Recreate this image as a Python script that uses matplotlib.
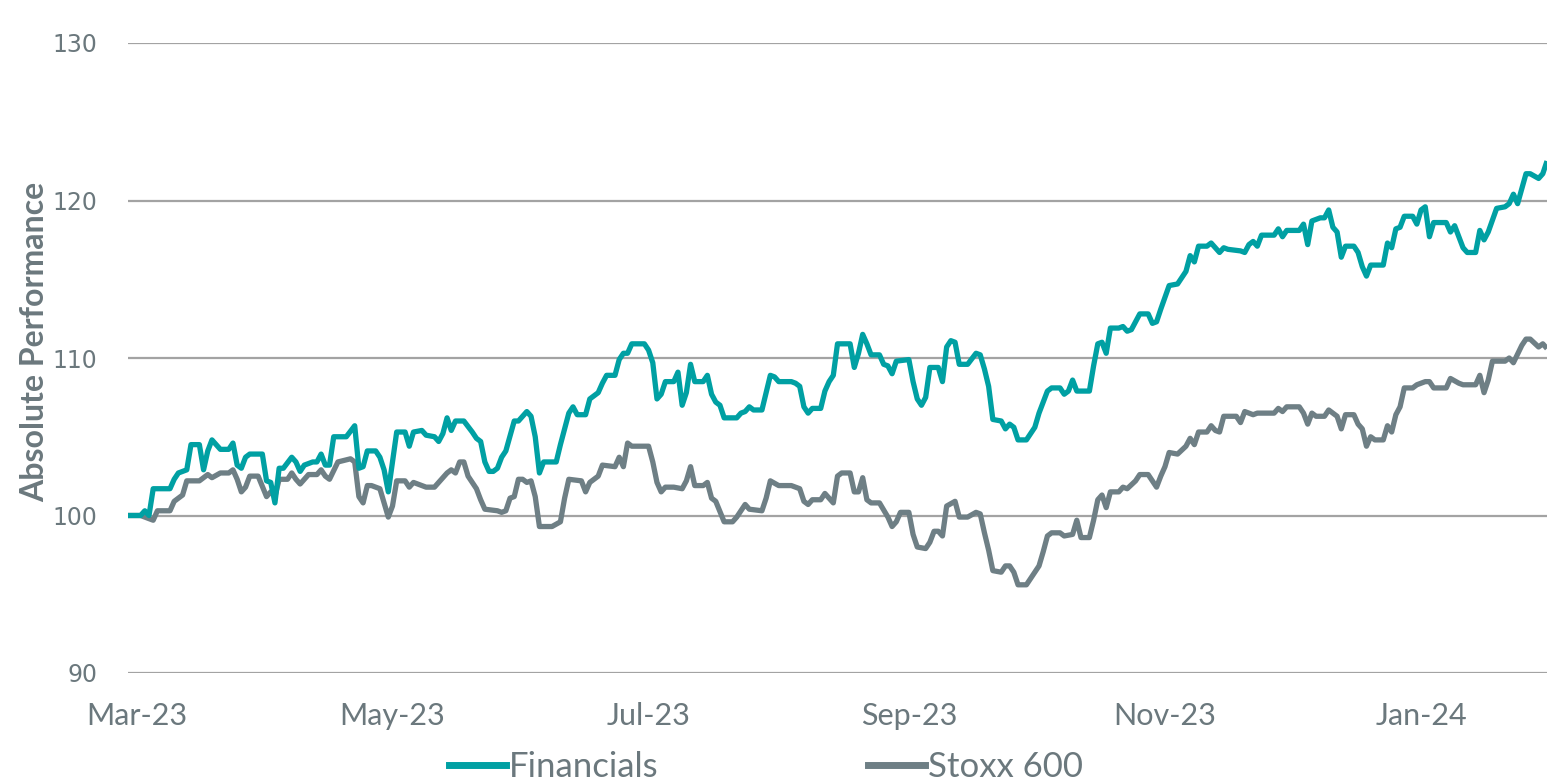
import matplotlib
matplotlib.use("Agg")
import matplotlib.pyplot as plt
import matplotlib.dates as mdates
from matplotlib.lines import Line2D
import pandas as pd

# ---------------- data ----------------
start_date = "2023-02-27"          # day 0 of the series
series_names = ["Financials", "Stoxx 600"]

fin_days = [
    0, 3, 4, 5, 6, 10, 11, 12, 14, 15,
    17, 18, 19, 20, 22, 24, 25, 26, 27, 28,
    29, 32, 33, 34, 35, 36, 37, 39, 40, 41,
    42, 44, 45, 46, 47, 48, 49, 52, 54, 55,
    56, 57, 59, 60, 61, 62, 64, 66, 67, 68,
    70, 71, 73, 74, 75, 76, 77, 78, 80, 82,
    83, 84, 85, 86, 87, 88, 89, 90, 92, 93,
    95, 96, 97, 98, 99, 102, 103, 105, 106, 107,
    109, 110, 112, 113, 114, 116, 117, 118, 119, 120,
    123, 124, 125, 126, 127, 128, 130, 131, 132, 133,
    134, 135, 137, 138, 139, 140, 141, 142, 145, 146,
    147, 148, 149, 151, 153, 154, 155, 158, 159, 160,
    161, 162, 163, 165, 166, 167, 168, 169, 172, 173,
    174, 175, 176, 177, 179, 180, 181, 182, 183, 186,
    187, 188, 189, 190, 191, 193, 194, 195, 196, 197,
    198, 200, 202, 203, 204, 205, 206, 208, 209, 210,
    211, 212, 214, 216, 217, 219, 220, 222, 223, 224,
    225, 226, 229, 230, 231, 232, 233, 234, 236, 237,
    238, 239, 241, 243, 244, 245, 246, 248, 250, 251,
    252, 253, 254, 255, 257, 258, 259, 260, 261, 262,
    265, 266, 267, 268, 269, 270, 273, 274, 275, 276,
    279, 280, 281, 282, 284, 285, 286, 287, 288, 289,
    290, 292, 293, 294, 295, 296, 299, 300, 301, 302,
    303, 304, 306, 307, 308, 309, 310, 311, 314, 315,
    316, 317, 318, 319, 321, 322, 323, 324, 326, 328,
    329, 330, 331, 333, 334, 336, 337, 338,
]
fin_values = [
    100.0, 100.0, 100.3, 100.0, 101.7, 101.7, 102.3, 102.7, 102.9, 104.5,
    104.5, 102.9, 104.1, 104.8, 104.2, 104.2, 104.6, 103.2, 103.0, 103.7,
    103.9, 103.9, 102.2, 102.1, 100.8, 103.0, 103.0, 103.7, 103.4, 102.8,
    103.2, 103.4, 103.4, 103.9, 103.2, 103.2, 105.0, 105.0, 105.7, 103.0,
    103.1, 104.1, 104.1, 103.7, 102.9, 101.5, 105.3, 105.3, 104.4, 105.3,
    105.4, 105.1, 105.0, 104.7, 105.2, 106.2, 105.4, 106.0, 106.0, 105.3,
    104.9, 104.7, 103.4, 102.8, 102.8, 103.0, 103.7, 104.1, 106.0, 106.0,
    106.6, 106.3, 105.0, 102.7, 103.4, 103.4, 104.5, 106.5, 106.9, 106.4,
    106.4, 107.4, 107.8, 108.4, 108.9, 108.9, 109.9, 110.3, 110.3, 110.9,
    110.9, 110.5, 109.7, 107.4, 107.7, 108.5, 108.5, 109.1, 107.0, 107.8,
    109.6, 108.5, 108.5, 108.9, 107.7, 107.2, 107.0, 106.2, 106.2, 106.5,
    106.6, 106.9, 106.7, 106.7, 108.9, 108.8, 108.5, 108.5, 108.4, 108.2,
    106.9, 106.5, 106.8, 106.8, 107.9, 108.5, 108.9, 110.9, 110.9, 109.4,
    110.3, 111.5, 110.9, 110.2, 110.2, 109.6, 109.5, 109.0, 109.8, 109.9,
    108.5, 107.4, 107.0, 107.5, 109.4, 109.4, 108.5, 110.7, 111.1, 111.0,
    109.6, 109.6, 110.3, 110.2, 109.3, 108.2, 106.1, 106.0, 105.5, 105.8,
    105.6, 104.8, 104.8, 105.6, 106.5, 107.9, 108.1, 108.1, 107.7, 107.9,
    108.6, 107.9, 107.9, 109.5, 110.9, 111.0, 110.3, 111.9, 111.9, 112.0,
    111.7, 111.8, 112.8, 112.8, 112.2, 112.3, 113.1, 114.6, 114.7, 115.1,
    115.5, 116.5, 116.1, 117.1, 117.1, 117.3, 117.0, 116.7, 117.0, 116.9,
    116.8, 116.7, 117.2, 117.4, 117.1, 117.8, 117.8, 118.2, 117.7, 118.1,
    118.1, 118.5, 117.2, 118.7, 118.9, 118.9, 119.4, 118.3, 118.0, 116.4,
    117.1, 117.1, 116.7, 115.8, 115.2, 115.9, 115.9, 117.3, 117.0, 118.2,
    118.3, 119.0, 119.0, 118.5, 119.4, 119.6, 117.7, 118.6, 118.6, 118.0,
    118.4, 117.7, 117.0, 116.7, 116.7, 118.1, 117.5, 118.0, 119.5, 119.6,
    119.8, 120.4, 119.8, 121.7, 121.7, 121.4, 121.7, 122.5,
]

stoxx_days = [
    0, 3, 4, 6, 7, 10, 11, 13, 14, 17,
    19, 20, 22, 24, 25, 26, 27, 28, 29, 31,
    33, 34, 35, 36, 38, 39, 40, 41, 42, 43,
    45, 46, 47, 48, 50, 53, 54, 55, 56, 57,
    58, 60, 61, 62, 63, 64, 66, 67, 68, 70,
    71, 73, 74, 76, 77, 78, 79, 80, 81, 83,
    84, 85, 88, 89, 90, 91, 92, 93, 94, 95,
    96, 97, 98, 101, 103, 104, 105, 108, 109, 110,
    112, 113, 116, 117, 118, 119, 120, 124, 125, 126,
    127, 128, 130, 132, 133, 134, 135, 137, 138, 139,
    140, 142, 144, 145, 147, 148, 151, 152, 153, 155,
    158, 160, 161, 162, 163, 165, 166, 168, 169, 170,
    172, 173, 174, 175, 176, 177, 179, 181, 182, 183,
    184, 186, 187, 188, 190, 191, 192, 193, 194, 195,
    197, 198, 200, 202, 203, 204, 205, 206, 208, 209,
    210, 211, 212, 214, 215, 217, 218, 219, 220, 222,
    223, 225, 226, 227, 229, 230, 231, 232, 233, 234,
    236, 237, 238, 240, 241, 243, 245, 246, 247, 248,
    250, 252, 253, 254, 255, 257, 258, 259, 260, 261,
    264, 265, 266, 268, 269, 273, 274, 275, 276, 279,
    280, 281, 282, 283, 285, 286, 288, 289, 290, 292,
    293, 294, 295, 296, 297, 299, 300, 301, 302, 303,
    304, 306, 307, 309, 310, 311, 314, 315, 317, 318,
    321, 322, 323, 324, 325, 328, 329, 330, 332, 333,
    334, 336, 337, 338,
]
stoxx_values = [
    100.0, 100.0, 99.9, 99.7, 100.3, 100.3, 100.9, 101.3, 102.2, 102.2,
    102.6, 102.4, 102.7, 102.7, 102.9, 102.3, 101.5, 101.8, 102.5, 102.5,
    101.2, 101.5, 101.2, 102.3, 102.3, 102.7, 102.3, 102.0, 102.3, 102.6,
    102.6, 102.9, 102.5, 102.3, 103.4, 103.6, 103.4, 101.2, 100.8, 101.9,
    101.9, 101.7, 100.8, 99.9, 100.6, 102.2, 102.2, 101.8, 102.1, 101.9,
    101.8, 101.8, 102.1, 102.7, 102.9, 102.7, 103.4, 103.4, 102.5, 101.7,
    101.0, 100.4, 100.3, 100.2, 100.3, 101.1, 101.2, 102.3, 102.3, 102.1,
    102.2, 101.2, 99.3, 99.3, 99.6, 101.1, 102.3, 102.2, 101.5, 102.1,
    102.5, 103.2, 103.1, 103.7, 103.1, 104.6, 104.4, 104.4, 103.4, 102.1,
    101.5, 101.8, 101.8, 101.7, 102.2, 103.1, 101.9, 101.9, 102.1, 101.1,
    100.9, 99.6, 99.6, 99.9, 100.7, 100.4, 100.3, 101.1, 102.2, 101.9,
    101.9, 101.7, 100.9, 100.7, 101.0, 101.0, 101.4, 100.8, 102.5, 102.7,
    102.7, 101.5, 101.5, 102.4, 101.0, 100.8, 100.8, 99.9, 99.3, 99.6,
    100.2, 100.2, 98.8, 98.0, 97.9, 98.3, 99.0, 99.0, 98.7, 100.6,
    100.9, 99.9, 99.9, 100.2, 100.1, 98.9, 97.8, 96.5, 96.4, 96.8,
    96.8, 96.4, 95.6, 95.6, 96.0, 96.8, 97.7, 98.7, 98.9, 98.9,
    98.7, 98.8, 99.7, 98.6, 98.6, 99.7, 101.0, 101.3, 100.5, 101.5,
    101.5, 101.8, 101.7, 102.2, 102.6, 102.6, 101.8, 102.5, 103.1, 104.0,
    103.9, 104.4, 104.9, 104.5, 105.3, 105.3, 105.7, 105.4, 105.3, 106.3,
    106.3, 105.9, 106.6, 106.4, 106.5, 106.5, 106.8, 106.6, 106.9, 106.9,
    106.5, 105.8, 106.5, 106.3, 106.3, 106.7, 106.3, 105.5, 106.4, 106.4,
    105.8, 105.5, 104.4, 105.0, 104.8, 104.8, 105.7, 105.3, 106.4, 106.9,
    108.1, 108.1, 108.3, 108.5, 108.5, 108.1, 108.1, 108.7, 108.4, 108.3,
    108.3, 108.9, 107.8, 108.6, 109.8, 109.8, 110.0, 109.7, 110.8, 111.2,
    111.2, 110.7, 110.9, 110.6,
]

y_ticks = [90, 100, 110, 120, 130]
x_tick_dates = ["2023-03-01", "2023-05-01", "2023-07-01",
                "2023-09-01", "2023-11-01", "2024-01-01"]
y_label = "Absolute Performance"

# ---------------- style ----------------
FIN_COLOR = "#00a0a3"
STOXX_COLOR = "#6e7f85"
TEXT_COLOR = "#6b787d"
GRID_COLOR = "#a3a3a3"

W, H = 1547, 781
fig = plt.figure(figsize=(W / 100, H / 100), dpi=100)
ax = fig.add_axes([128 / W, 1 - 673 / H, 1 - 128 / W, (673 - 43) / H])

start = pd.Timestamp(start_date)
fin_dates = start + pd.to_timedelta(fin_days, unit="D")
stoxx_dates = start + pd.to_timedelta(stoxx_days, unit="D")

for yv in y_ticks:
    ax.axhline(yv, color=GRID_COLOR, lw=1.6, zorder=1)

ax.plot(fin_dates, fin_values, color=FIN_COLOR, lw=3.8, zorder=3,
        solid_joinstyle="round", solid_capstyle="butt")
ax.plot(stoxx_dates, stoxx_values, color=STOXX_COLOR, lw=3.8, zorder=2,
        solid_joinstyle="round", solid_capstyle="butt")

ax.set_xlim(start, start + pd.Timedelta(days=max(fin_days)))
ax.set_ylim(min(y_ticks), max(y_ticks))
ax.set_yticks(y_ticks)
ax.set_xticks(pd.to_datetime(x_tick_dates))
ax.xaxis.set_major_formatter(mdates.DateFormatter("%b-%y"))

for s in ax.spines.values():
    s.set_visible(False)
ax.tick_params(axis="both", length=0)
ax.tick_params(axis="y", pad=22, labelsize=17, labelcolor=TEXT_COLOR)
ax.tick_params(axis="x", pad=21, labelsize=22, labelcolor=TEXT_COLOR)
for lab in ax.get_yticklabels():
    lab.set_fontfamily("DejaVu Sans")
for lab in ax.get_xticklabels():
    lab.set_fontfamily("Lato")

fig.text(35 / W, 1 - 342 / H, y_label, rotation=90, ha="center", va="center",
         fontsize=23, fontweight="bold", color=TEXT_COLOR, family="Lato")

handles = [Line2D([], [], color=FIN_COLOR, lw=5),
           Line2D([], [], color=STOXX_COLOR, lw=5)]
fig.legend(handles, series_names, loc="center", bbox_to_anchor=(766 / W, 1 - 767 / H),
           ncol=2, frameon=False, prop={"family": "Lato", "size": 25},
           labelcolor=TEXT_COLOR, handlelength=1.64, handletextpad=0.09,
           columnspacing=6.05, borderaxespad=0, borderpad=0)

fig.savefig("out.png", dpi=100)
